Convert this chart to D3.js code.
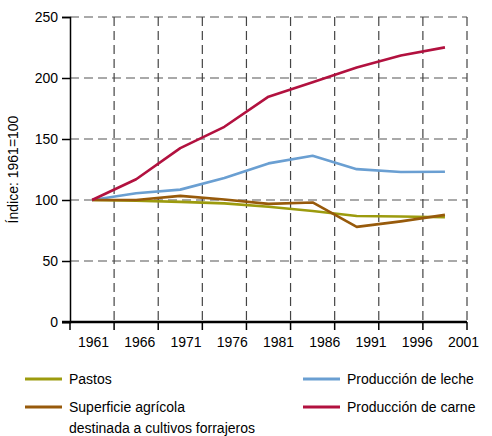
<!DOCTYPE html>
<html>
<head>
<meta charset="utf-8">
<script src="https://cdn.jsdelivr.net/npm/d3@7"></script>
<style>
  body { margin: 0; background: #fff; }
  svg { display: block; font-family: "Liberation Sans", Arial, sans-serif; }
</style>
</head>
<body>
<script>
// Datos (índice 1961 = 100)
const years = [1961, 1966, 1971, 1976, 1981, 1986, 1991, 1996, 2001];
const pastos = [100, 99.4, 98.5, 97.2, 94.5, 91, 86.9, 86.5, 85.8];
const leche = [100, 105.5, 108.5, 118, 130, 136.3, 125.3, 123, 123.2];
const forrajeros = [100, 100, 103.4, 100.4, 96.8, 98, 78, 82.5, 87.8];
const carne = [100, 117, 142.5, 160, 184.7, 196.5, 208.6, 218.5, 225.1];
const yTicks = [0, 50, 100, 150, 200, 250];
const xTicks = [1961, 1966, 1971, 1976, 1981, 1986, 1991, 1996, 2001];

const series = [
  { name: "Pastos", values: pastos, color: "#9c9b0e" },
  { name: "Producción de leche", values: leche, color: "#6a9fd2" },
  { name: "Superficie agrícola|destinada a cultivos forrajeros", values: forrajeros, color: "#975a0b" },
  { name: "Producción de carne", values: carne, color: "#b2113f" }
];

const W = 492, H = 436;
const margin = { top: 17, left: 70, right: 25, bottom: 114 };
const width = W - margin.left - margin.right,
      height = H - margin.top - margin.bottom;

const svg = d3.select("body").append("svg")
    .attr("width", W)
    .attr("height", H);

const g = svg.append("g")
    .attr("transform", "translate(" + margin.left + "," + margin.top + ")");

// Escalas
const y = d3.scaleLinear().domain([0, 250]).range([height, 0]);
const xGrid = d3.scaleLinear().domain([1956, 2001]).range([0, width]);
// los puntos de datos quedan a mitad de cada intervalo de la rejilla
const xData = d3.scalePoint().domain(years).range([xGrid(1958.5), xGrid(1998.5)]);
// las etiquetas del eje x van algo desplazadas respecto a la rejilla
const xLabel = d3.scaleLinear().domain([1961, 2001]).range([23, 393]);

// Rejilla discontinua
g.append("g")
  .selectAll("line")
  .data(yTicks.filter(d => d > 0))
  .join("line")
    .attr("x1", 0).attr("x2", width)
    .attr("y1", d => y(d)).attr("y2", d => y(d))
    .attr("stroke", "#555").attr("stroke-width", 1.2)
    .attr("stroke-dasharray", "9,5");

g.append("g")
  .selectAll("line")
  .data(xTicks)
  .join("line")
    .attr("x1", d => xGrid(d)).attr("x2", d => xGrid(d))
    .attr("y1", 0).attr("y2", height)
    .attr("stroke", "#444").attr("stroke-width", 1.2)
    .attr("stroke-dasharray", "9,5");

// Eje y
const yAxis = g.append("g")
    .call(d3.axisLeft(y).tickValues(yTicks).tickSize(8).tickPadding(4));
yAxis.select(".domain").attr("stroke", "#000").attr("stroke-width", 1.5);
yAxis.selectAll(".tick line").attr("stroke", "#000").attr("stroke-width", 1.5);
yAxis.selectAll("text").attr("font-size", 14).attr("fill", "#000")
    .attr("font-family", "Liberation Sans, Arial, sans-serif");

// Eje x: línea gruesa y marcas
g.append("line")
    .attr("x1", -8).attr("x2", width)
    .attr("y1", height).attr("y2", height)
    .attr("stroke", "#000").attr("stroke-width", 2.7);

g.append("g")
  .selectAll("line")
  .data([1956].concat(xTicks))
  .join("line")
    .attr("x1", d => xGrid(d)).attr("x2", d => xGrid(d))
    .attr("y1", height).attr("y2", height + 8)
    .attr("stroke", "#000").attr("stroke-width", 1.5);

const xAxis = g.append("g")
    .attr("transform", "translate(0," + height + ")")
    .call(d3.axisBottom(xLabel).tickValues(xTicks).tickFormat(d3.format("d")).tickSize(0).tickPadding(15));
xAxis.select(".domain").remove();
xAxis.selectAll("text").attr("font-size", 14).attr("fill", "#000")
    .attr("font-family", "Liberation Sans, Arial, sans-serif");

// Título del eje y
svg.append("text")
    .attr("transform", "translate(18," + (margin.top + height / 2) + ") rotate(-90)")
    .attr("text-anchor", "middle")
    .attr("font-size", 14)
    .text("Índice: 1961=100");

// Líneas
const line = d3.line()
    .x((d, i) => xData(years[i]))
    .y(d => y(d));

g.selectAll(".serie")
  .data(series)
  .join("path")
    .attr("class", "serie")
    .attr("fill", "none")
    .attr("stroke", d => d.color)
    .attr("stroke-width", 2.6)
    .attr("stroke-linejoin", "round")
    .attr("d", d => line(d.values));

// Leyenda
const legendPos = [[25, 379], [303, 379], [25, 407], [303, 407]];
const legend = svg.append("g")
  .selectAll("g")
  .data(series)
  .join("g")
    .attr("transform", (d, i) => "translate(" + legendPos[i][0] + "," + legendPos[i][1] + ")");

legend.append("line")
    .attr("x1", 0).attr("x2", 37)
    .attr("stroke", d => d.color)
    .attr("stroke-width", 3);

legend.append("text")
    .attr("x", 44)
    .attr("font-size", 14)
    .selectAll("tspan")
    .data(d => d.name.split("|"))
    .join("tspan")
      .attr("x", 44)
      .attr("y", (d, i) => 5 + i * 21)
      .text(d => d);
</script>
</body>
</html>
